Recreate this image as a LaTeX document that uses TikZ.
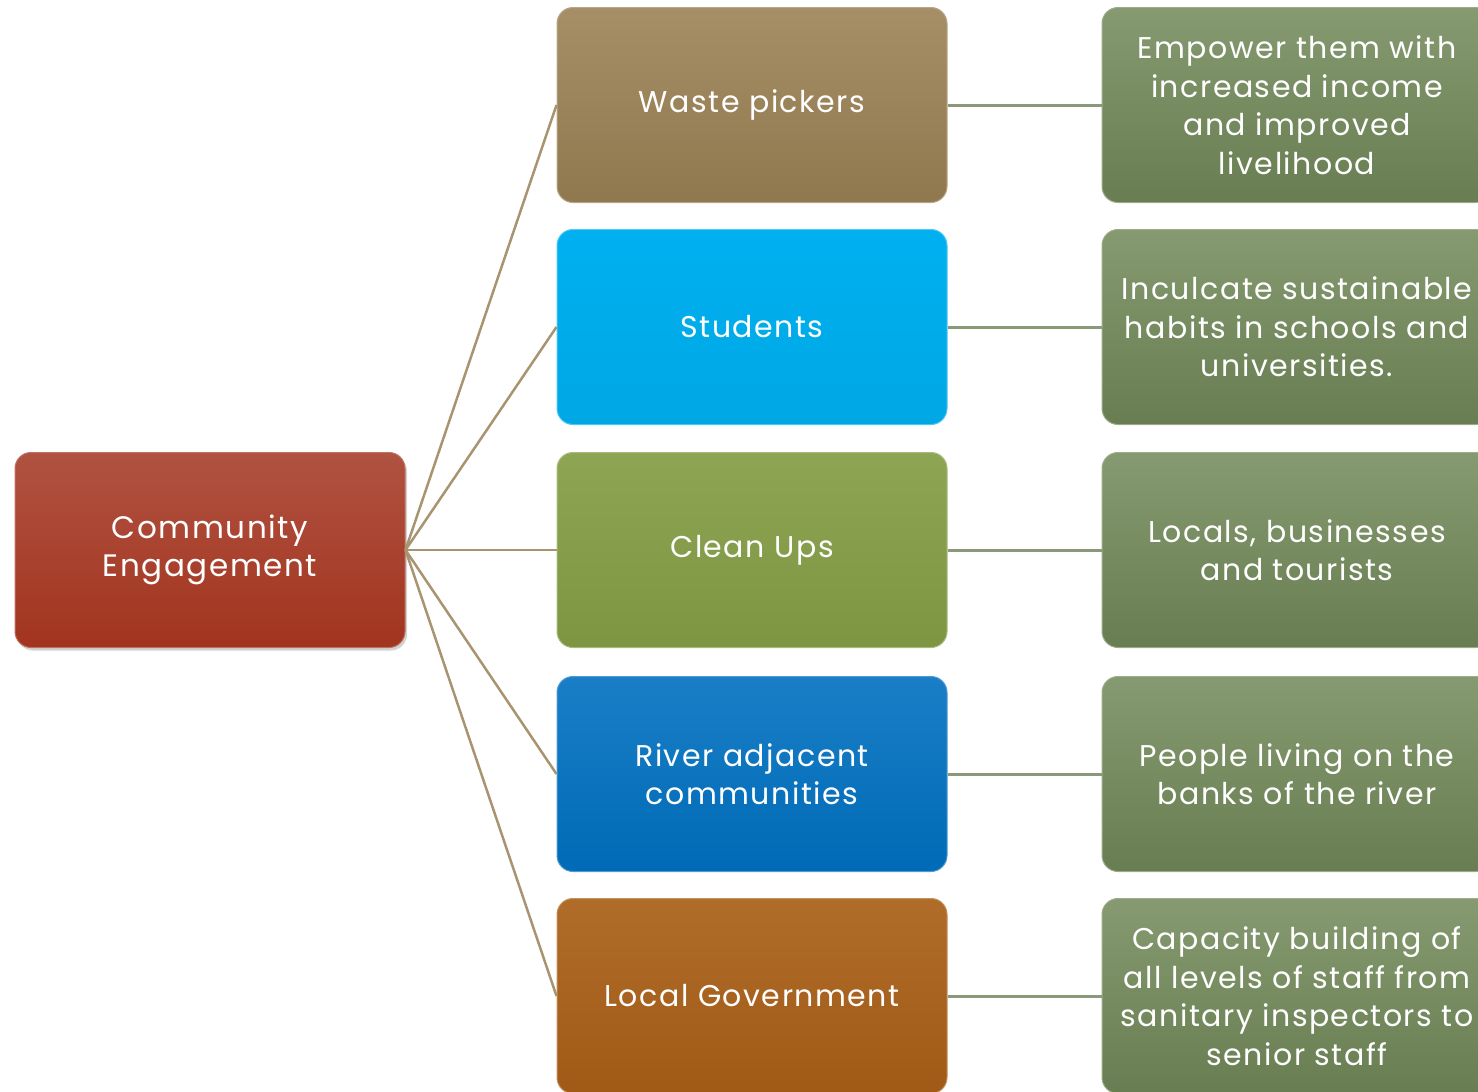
\documentclass[tikz,border=0pt]{standalone}
\usepackage{fontspec}
\setmainfont[LetterSpace=5]{Poppins}
\usetikzlibrary{shadows}
\definecolor{linktan}{HTML}{A89470}
\definecolor{linkgreen}{HTML}{8A9A78}
\tikzset{
  box/.style={rounded corners=16pt, minimum width=390pt, minimum height=195pt,
    text=white, align=center, inner sep=4pt, draw=#1!70!white, line width=1pt,
    font=\fontsize{30}{38}\selectfont},
  rootbox/.style={box=rootc, top color=rootc!85!white, bottom color=rootc, drop shadow={shadow xshift=2pt, shadow yshift=-3pt, opacity=0.35}, font=\fontsize{31}{38}\selectfont},
  wastebox/.style={box=wastec, top color=wastec!90!white, bottom color=wastec!92!black},
  studbox/.style={box=studc, top color=studc, bottom color=studc!95!black},
  cleanbox/.style={box=cleanc, top color=cleanc!92!white, bottom color=cleanc!95!black},
  riverbox/.style={box=riverc, top color=riverc!90!white, bottom color=riverc!95!black},
  govbox/.style={box=govc, top color=govc!92!white, bottom color=govc!95!black},
  outbox/.style={box=outc, top color=outc!85!white, bottom color=outc!92!black, font=\fontsize{30}{38.5}\selectfont},
  tanlink/.style={draw=linktan, line width=2.5pt},
  greenlink/.style={draw=linkgreen, line width=3pt}
}
\definecolor{rootc}{HTML}{A2341F}
\definecolor{wastec}{HTML}{9C8255}
\definecolor{studc}{HTML}{00B0F0}
\definecolor{cleanc}{HTML}{849D45}
\definecolor{riverc}{HTML}{0070C0}
\definecolor{govc}{HTML}{A95F17}
\definecolor{outc}{HTML}{718858}
\begin{document}
\begin{tikzpicture}[x=1pt,y=-1pt]
\useasboundingbox (0,0) rectangle (1478,1092);
\clip (0,0) rectangle (1478,1092);
\node[rootbox] (root) at (210,550) {Community\\Engagement};
\node[wastebox] (m1) at (752,105) {Waste pickers};
\node[studbox] (m2) at (752,327) {Students};
\node[cleanbox] (m3) at (752,550) {Clean Ups};
\node[riverbox] (m4) at (752,774) {River adjacent\\communities};
\node[govbox] (m5) at (752,996) {Local Government};
\node[outbox] (r1) at (1297,105) {Empower them with\\increased income\\and improved\\livelihood};
\node[outbox] (r2) at (1297,327) {Inculcate sustainable\\habits in schools and\\universities.};
\node[outbox] (r3) at (1297,550) {Locals, businesses\\and tourists};
\node[outbox] (r4) at (1297,774) {People living on the\\banks of the river};
\node[outbox] (r5) at (1297,996) {Capacity building of\\all levels of staff from\\sanitary inspectors to\\senior staff};
\foreach \m in {m1,m2,m3,m4,m5}{
  \draw[tanlink] (root.east) -- (\m.west);
}
\draw[greenlink] (m1.east) -- (r1.west);
\draw[greenlink] (m2.east) -- (r2.west);
\draw[greenlink] (m3.east) -- (r3.west);
\draw[greenlink] (m4.east) -- (r4.west);
\draw[greenlink] (m5.east) -- (r5.west);
\end{tikzpicture}
\end{document}
